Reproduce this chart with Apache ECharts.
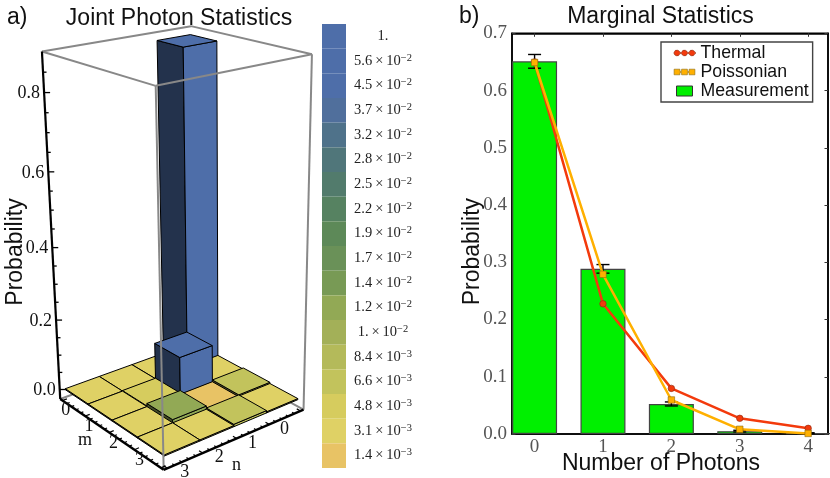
<!DOCTYPE html>
<html><head><meta charset="utf-8">
<style>html,body{margin:0;padding:0;background:#fff}#c{width:830px;height:478px}</style>
<script src="https://cdn.jsdelivr.net/npm/echarts@6/dist/echarts.min.js"></script></head>
<body><div id="c"></div>
<script>
// ---- Panel b data
const photonCounts = [0, 1, 2, 3, 4];
const measured = [0.651, 0.2885, 0.0525, 0.005, 0.0015];
const errLow = [0.639, 0.281, 0.049, 0.0035, 0.0008];
const errHigh = [0.663, 0.296, 0.056, 0.0065, 0.0022];
const thermal = [0.65, 0.2274, 0.0797, 0.0274, 0.0099];
const poissonian = [0.649, 0.279, 0.0594, 0.0082, 0.001];
// ---- Panel a data: rows are m = 0..3, columns n = 0..3
const jointRow0 = [0.881, 0.0031, 0.0031, 0.0031];
const jointRow1 = [0.0031, 0.107, 0.0048, 0.0031];
const jointRow2 = [0.0066, 0.0014, 0.012, 0.0031];
const jointRow3 = [0.0031, 0.0066, 0.0031, 0.0031];
const jointRows = [jointRow0, jointRow1, jointRow2, jointRow3];
const zTicks = [0, 0.2, 0.4, 0.6, 0.8];
const mnTicks = [0, 1, 2, 3];
// ---- Colour bar
const bandValues = [1, 5.6e-2, 4.5e-2, 3.7e-2, 3.2e-2, 2.8e-2, 2.5e-2, 2.2e-2, 1.9e-2, 1.7e-2, 1.4e-2, 1.2e-2, 1e-2, 8.4e-3, 6.6e-3, 4.8e-3, 3.1e-3, 1.4e-3];
const bandLabels = ['1.', '5.6|-2', '4.5|-2', '3.7|-2', '3.2|-2', '2.8|-2', '2.5|-2', '2.2|-2', '1.9|-2', '1.7|-2', '1.4|-2', '1.2|-2', '1.|-2', '8.4|-3', '6.6|-3', '4.8|-3', '3.1|-3', '1.4|-3'];
const bandColors = ['#4e6ea9','#4e6ea9','#4e6ea9','#506f9c','#4f728a','#50767a','#527b6c','#568261','#5d8958','#6a9158','#789a55','#92a955','#a3b058','#b4ba5a','#c2c35c','#d6cc5e','#dfd165','#e8c365'];

// ---- camera: projective 3x4 matrix (m, n, probability) -> page
const CAM = [19.1703,-33.2481,-22.4754,193.699, 4.88218,4.61308,-353.816,343.317, -0.0230413,-0.0179405,-0.0984064];
const PAD = 0.1, Z0 = -0.028, Z1 = 0.90;
function proj(m,n,z){const P=CAM,w=P[8]*m+P[9]*n+P[10]*z+1;return [(P[0]*m+P[1]*n+P[2]*z+P[3])/w,(P[4]*m+P[5]*n+P[6]*z+P[7])/w];}
const chart=echarts.init(document.getElementById('c'),null,{renderer:'canvas'});
const cells=[];
for(let s=0;s<=6;s++)for(let m=0;m<4;m++){const n=s-m;if(n>=0&&n<4)cells.push([m,n,jointRows[m][n]]);}
function bandColor(p){let c=bandColors[0];bandValues.forEach((v,i)=>{if(p<=v)c=bandColors[i];});return c;}
function shade(h,f){const v=parseInt(h.slice(1),16);return 'rgb('+[(v>>16)&255,(v>>8)&255,v&255].map(x=>Math.round(x*f)).join(',')+')';}
function renderCell(params,api){
 const m=api.value(0),n=api.value(1),p=api.value(2);const col=bandColor(p);
 const poly=(pts,fill)=>({type:'polygon',shape:{points:pts},style:{fill,stroke:'#000',lineWidth:1,lineJoin:'round'}});
 const t=[proj(m,n,p),proj(m+1,n,p),proj(m+1,n+1,p),proj(m,n+1,p)];
 return {type:'group',children:[
  poly([proj(m,n+1,0),proj(m+1,n+1,0),proj(m+1,n+1,p),proj(m,n+1,p)],shade(col,0.45)),
  poly([proj(m+1,n+1,0),proj(m+1,n,0),proj(m+1,n,p),proj(m+1,n+1,p)],col),
  poly(t,col)]};
}
const mn=-PAD,mx=4+PAD;
const backEdges=[[mn,mx,Z1,mn,mn,Z1],[mn,mn,Z1,mx,mn,Z1],[mx,mn,Z1,mx,mn,Z0],[mn,mx,Z0,mn,mn,Z0],[mn,mn,Z0,mx,mn,Z0]];
const frontEdges=[[mn,mx,Z1,mx,mx,Z1],[mx,mx,Z1,mx,mn,Z1],[mx,mx,Z1,mx,mx,Z0]];
function renderEdge(params,api){const a=proj(api.value(0),api.value(1),api.value(2)),b=proj(api.value(3),api.value(4),api.value(5));
 return {type:'line',shape:{x1:a[0],y1:a[1],x2:b[0],y2:b[1]},style:{stroke:'#888',lineWidth:2}};}
function txt(text,x,y,font,extra){return {type:'text',style:Object.assign({text,x,y,font,fill:'#111',align:'center',verticalAlign:'middle'},extra||{})};}
const serif='18px "Liberation Serif"';
function renderAxes(){
 const ch=[];const ln=(a,b,w,c)=>ch.push({type:'line',shape:{x1:a[0],y1:a[1],x2:b[0],y2:b[1]},style:{stroke:c||'#000',lineWidth:w}});
 ln(proj(mn,mx,Z1),proj(mn,mx,Z0),2.2);ln(proj(mn,mx,Z0),proj(mx,mx,Z0),2.4);ln(proj(mx,mx,Z0),proj(mx,mn,Z0),2.4);
 for(let i=0;i<=17;i++){const z=i*0.05,a=proj(mn,mx,z),maj=i%4===0;ln(a,[a[0]+(maj?6:3.5),a[1]],1.3);}
 zTicks.forEach(z=>{const a=proj(mn,mx,z);ch.push(txt(z.toFixed(1),a[0]-4,a[1]+1,serif,{align:'right'}));});
 for(let i=0;i<=20;i++){const t=i*0.2;const a=proj(t,mx,Z0),b=proj(mx,4-t,Z0);const maj=i%5===0;const L=maj?0.13:0.08;
  const a2=proj(t,mx-L,Z0),b2=proj(mx-L,4-t,Z0);ln(a,a2,1.2);ln(b,b2,1.2);}
 mnTicks.forEach(v=>{const a=proj(v+.5,mx,Z0);ch.push(txt(String(v),a[0]-8,a[1]+2,serif));const b=proj(mx,v+.5,Z0);ch.push(txt(String(v),b[0]-0.5,b[1]+12,serif));});
 const ma=proj(2,mx,Z0),na=proj(mx,2,Z0);
 ch.push(txt('m',ma[0]-24,ma[1]+8,'18px "Liberation Serif"'));ch.push(txt('n',na[0],na[1]+27,'18px "Liberation Serif"'));
 ch.push({type:'text',x:16,y:252,rotation:Math.PI/2,style:{text:'Probability',font:'23px "Liberation Sans"',fill:'#111',align:'center',verticalAlign:'middle'}});
 return {type:'group',children:ch};
}
const X0=-0.33,X1=4.29;
const legendIcons={
 thermal:'path://M0 0L0 0M22 10L22 10M0.5 4.4H0.6A3 3 0 0 1 6.4 4.4H8.1A3 3 0 0 1 13.9 4.4H15.6A3 3 0 0 1 21.4 4.4H22V5.6H21.4A3 3 0 0 1 15.6 5.6H13.9A3 3 0 0 1 8.1 5.6H6.4A3 3 0 0 1 0.6 5.6H0.5Z',
 poisson:'path://M0 0L0 0M22 10L22 10M0.6 2.2H6.4V4.4H8.1V2.2H13.9V4.4H15.6V2.2H21.4V7.8H15.6V5.6H13.9V7.8H8.1V5.6H6.4V7.8H0.6Z',
 measure:'path://M0 0L0 0M22 10L22 10M3 0H19V10H3Z'
};
const titleStyle={fontFamily:'Liberation Sans',fontSize:23,fontWeight:'normal',color:'#111'};
const option={
 animation:false,backgroundColor:'#fff',
 title:[
  {text:'a)',left:2,top:1,textStyle:titleStyle},
  {text:'b)',left:454,top:0,textStyle:titleStyle},
  {text:'Joint Photon Statistics',left:174,top:2,textAlign:'center',textStyle:titleStyle},
  {text:'Marginal Statistics',left:655.5,top:0,textAlign:'center',textStyle:titleStyle}
 ],
 grid:[{left:512,top:33.3,width:316,height:400.7,outerBoundsMode:'none',show:true,borderColor:'#000',borderWidth:1.5,backgroundColor:'transparent'},{left:322,top:24,width:24,height:444,outerBoundsMode:'none'}],
 legend:{left:661,top:42,width:161,orient:'vertical',padding:[2,4,2,12],itemGap:1,itemWidth:22,itemHeight:10,
  backgroundColor:'#fff',borderColor:'#444',borderWidth:1.4,borderRadius:0,
  textStyle:{fontFamily:'Liberation Sans',fontSize:17.7,color:'#111'},
  data:[{name:'Thermal',icon:legendIcons.thermal,itemStyle:{color:'#f33a0c',borderColor:'#8a2a10',borderWidth:0.6}},{name:'Poissonian',icon:legendIcons.poisson,itemStyle:{color:'#ffb000',borderColor:'#8a6a10',borderWidth:0.6}},{name:'Measurement',icon:legendIcons.measure,itemStyle:{color:'#00f000',borderColor:'#333',borderWidth:1}}]},
 xAxis:[
  {type:'value',gridIndex:0,min:X0,max:X1,axisLine:{onZero:false,lineStyle:{color:'#000',width:1.5}},axisTick:{inside:true,length:3.5,customValues:photonCounts,lineStyle:{color:'#333'}},splitLine:{show:false},
   axisLabel:{customValues:photonCounts,formatter:v=>String(v),fontFamily:'Liberation Serif',fontSize:19,color:'#555',margin:4},
   name:'Number of Photons',nameLocation:'middle',nameGap:18,nameMoveOverlap:false,nameTextStyle:{fontFamily:'Liberation Sans',fontSize:23,color:'#111',padding:[0,18,0,0]}},
  {type:'value',gridIndex:0,position:'top',min:X0,max:X1,axisLine:{onZero:false,lineStyle:{color:'#000',width:1.5}},axisTick:{inside:true,length:3.5,customValues:photonCounts,lineStyle:{color:'#333'}},axisLabel:{show:false},splitLine:{show:false}},
  {type:'value',gridIndex:1,min:0,max:1,show:false}
 ],
 yAxis:[
  {type:'value',gridIndex:0,min:0,max:0.7,interval:0.1,axisLine:{show:true,onZero:false,lineStyle:{color:'#000',width:1.5}},axisTick:{show:true,inside:true,length:3.5,lineStyle:{color:'#333'}},splitLine:{show:false},
   axisLabel:{formatter:v=>v.toFixed(1),fontFamily:'Liberation Serif',fontSize:19,color:'#555',margin:5,padding:[2,0,0,0]},
   name:'Probability',nameLocation:'middle',nameGap:28,nameMoveOverlap:false,nameTextStyle:{fontFamily:'Liberation Sans',fontSize:23,color:'#111',padding:[0,36,0,0]}},
  {type:'value',gridIndex:0,position:'right',min:0,max:0.7,interval:0.1,axisLine:{show:true,onZero:false,lineStyle:{color:'#000',width:1.5}},axisTick:{show:true,inside:true,length:3.5,lineStyle:{color:'#333'}},axisLabel:{show:false},splitLine:{show:false}},
  {type:'category',gridIndex:1,position:'right',inverse:true,data:bandLabels,axisLine:{show:false},axisTick:{show:false},
   axisLabel:{margin:37,align:'center',interval:0,color:'#222',fontFamily:'Liberation Serif',fontSize:14.5,
    formatter:s=>{const [a,e]=s.split('|');return e?`{n|${a}\u2009×\u200910}{s|${e.replace('-','−')}}`:`{n|${a}}`;},
    rich:{n:{fontFamily:'Liberation Serif',fontSize:14.5,color:'#222'},s:{fontFamily:'Liberation Serif',fontSize:10.5,color:'#222',padding:[0,0,6,0]}}}}
 ],
 series:[
  {type:'custom',name:'boxBack',coordinateSystem:'none',silent:true,data:backEdges,renderItem:renderEdge,z:1},
  {type:'custom',name:'jointBars',coordinateSystem:'none',silent:true,data:cells,renderItem:renderCell,z:2},
  {type:'custom',name:'boxFront',coordinateSystem:'none',silent:true,data:frontEdges,renderItem:renderEdge,z:3},
  {type:'custom',name:'axes3d',coordinateSystem:'none',silent:true,data:[0],renderItem:renderAxes,z:4},
  {type:'bar',name:'colorBand',xAxisIndex:2,yAxisIndex:2,barWidth:'100%',silent:true,data:bandColors.map(c=>({value:1,itemStyle:{color:c}}))},
  {type:'line',name:'frameAxes',xAxisIndex:1,yAxisIndex:1,silent:true,data:[]},
  {type:'bar',name:'Measurement',xAxisIndex:0,yAxisIndex:0,barWidth:45,data:photonCounts.map((x,i)=>[x,measured[i]]),itemStyle:{color:'#00f000',borderColor:'#444',borderWidth:1.2},z:2},
  {type:'custom',name:'errors',xAxisIndex:0,yAxisIndex:0,z:3,silent:true,data:photonCounts.map((x,i)=>[x,errLow[i],errHigh[i]]),
   renderItem:(p,api)=>{const a=api.coord([api.value(0),api.value(1)]),b=api.coord([api.value(0),api.value(2)]);const st={stroke:'#000',lineWidth:1.4};
    return {type:'group',children:[{type:'line',shape:{x1:a[0],y1:a[1],x2:b[0],y2:b[1]},style:st},{type:'line',shape:{x1:a[0]-6.5,y1:a[1],x2:a[0]+6.5,y2:a[1]},style:st},{type:'line',shape:{x1:a[0]-6.5,y1:b[1],x2:a[0]+6.5,y2:b[1]},style:st}]};}},
  {type:'line',name:'Thermal',xAxisIndex:0,yAxisIndex:0,z:4,data:photonCounts.map((x,i)=>[x,thermal[i]]),lineStyle:{color:'#f33a0c',width:2.5},symbol:'circle',symbolSize:6.5,showAllSymbol:true,itemStyle:{color:'#f33a0c',borderColor:'#8a2a10',borderWidth:0.6}},
  {type:'line',name:'Poissonian',xAxisIndex:0,yAxisIndex:0,z:5,data:photonCounts.map((x,i)=>[x,poissonian[i]]),lineStyle:{color:'#ffb000',width:2.5},symbol:'rect',symbolSize:6.5,showAllSymbol:true,itemStyle:{color:'#ffb000',borderColor:'#8a6a10',borderWidth:0.6}}
 ]
};
chart.setOption(option);
</script></body></html>
